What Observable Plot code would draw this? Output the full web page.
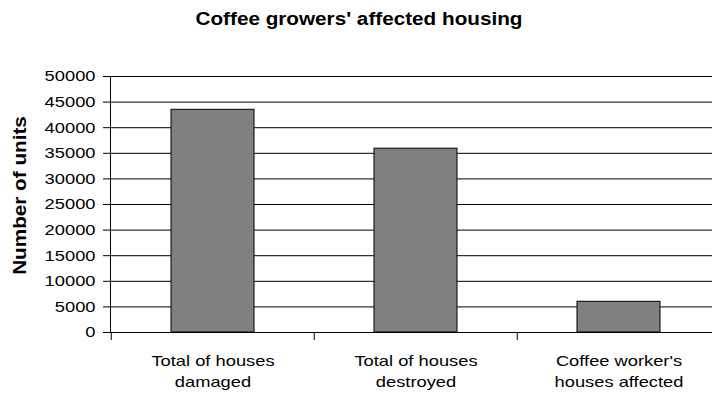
<!DOCTYPE html>
<html>
<head>
<meta charset="utf-8">
<script src="https://cdn.jsdelivr.net/npm/d3@7"></script>
<script src="https://cdn.jsdelivr.net/npm/@observablehq/plot@0.6"></script>
<style>
  html, body { margin: 0; padding: 0; background: #fff; }
  body { width: 712px; height: 398px; overflow: hidden; font-family: "Liberation Sans", Arial, sans-serif; }
  #title { height: 44px; position: relative; }
  #title span {
    position: absolute; left: 359px; top: 10px;
    transform: translateX(-50%) scaleX(1.15);
    font-weight: bold; font-size: 18px; line-height: 18px; white-space: nowrap; color: #000;
  }
  #chart svg { display: block; }
</style>
</head>
<body>
<div id="title"><span></span></div>
<div id="chart"></div>
<script>
// Affected housing among coffee growers, in number of units
const chartTitle = "Coffee growers' affected housing";
const yAxisTitle = "Number of units";
const categories = ["Total of houses\ndamaged", "Total of houses\ndestroyed", "Coffee worker's\nhouses affected"];
const units = [43500, 35900, 6000];
const yTicks = [0, 5000, 10000, 15000, 20000, 25000, 30000, 35000, 40000, 45000, 50000];

const data = categories.map((category, i) => ({category, units: units[i]}));

document.querySelector("#title span").textContent = chartTitle;

// band step of the category axis; the last band runs past the right edge
const left = 110;
const step = 203.5;

const chart = Plot.plot({
  width: 712,
  height: 354,
  marginTop: 32,
  marginBottom: 66,
  marginLeft: left,
  marginRight: 0,
  style: {fontFamily: '"Liberation Sans", Arial, sans-serif', fontSize: "15px", color: "#000", background: "#fff", overflow: "hidden"},
  x: {domain: categories, range: [left, left + 3 * step], paddingInner: 0.59, paddingOuter: 0.295, label: null},
  y: {domain: [0, 50000], label: null},
  marks: [
    Plot.gridY(yTicks, {stroke: "#000", strokeOpacity: 1, strokeWidth: 1}),
    Plot.barY(data, {x: "category", y: "units", fill: "#808080", stroke: "#000", strokeWidth: 1}),
    Plot.frame({anchor: "left", stroke: "#000"}),
    Plot.axisY(yTicks, {tickSize: 7, tickPadding: 8, tickFormat: d3.format("d"), label: null}),
    Plot.axisX({tickSize: 8, tickFormat: () => "", dx: -step / 2, label: null}),
    Plot.axisX({tickSize: 0, tickPadding: 19, lineHeight: 1.4, label: null}),
    Plot.text([yAxisTitle], {frameAnchor: "left", textAnchor: "middle", dx: -90, dy: -9, rotate: -90, fontWeight: "bold", fontSize: 18})
  ]
});

document.getElementById("chart").appendChild(chart);

// widen glyphs slightly, as the labels are set
function widen(el, f) {
  const parts = el.querySelectorAll("tspan");
  const targets = parts.length ? parts : [el];
  for (const t of targets) {
    const w = t.getComputedTextLength();
    if (w > 0) {
      t.setAttribute("textLength", (w * f).toFixed(1));
      t.setAttribute("lengthAdjust", "spacingAndGlyphs");
    }
  }
}
chart.querySelectorAll("text").forEach(t => {
  const bold = t.closest("[font-weight='bold']") || t.getAttribute("font-weight") === "bold";
  widen(t, bold ? 1.15 : 1.22);
});
</script>
</body>
</html>
